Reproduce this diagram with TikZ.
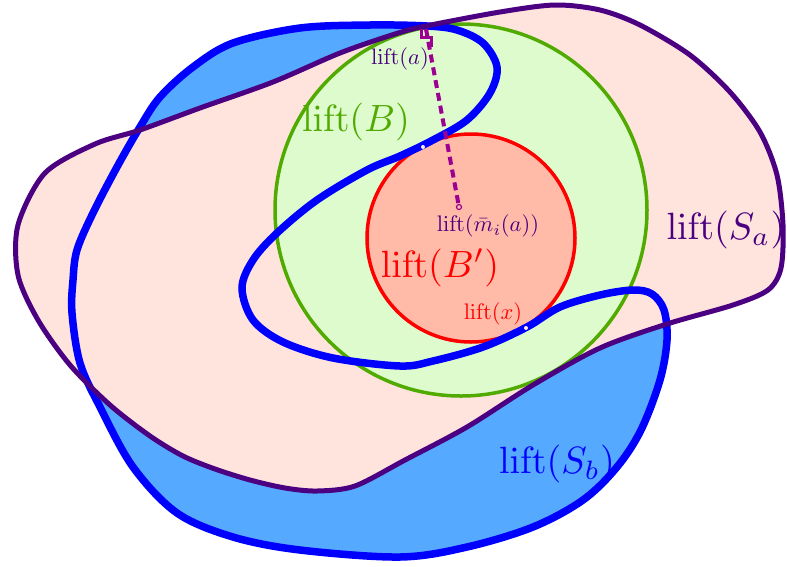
\documentclass[tikz,border=0pt]{standalone}
\usepackage{graphicx}
\definecolor{sbfill}{RGB}{85,170,255}
\definecolor{sbline}{RGB}{0,0,255}
\definecolor{safill}{RGB}{255,228,221}
\definecolor{saline}{RGB}{75,0,130}
\definecolor{bfill}{RGB}{222,251,206}
\definecolor{bline}{RGB}{80,170,0}
\definecolor{bpfill}{RGB}{255,187,168}
\definecolor{bpline}{RGB}{255,0,0}
\definecolor{dashcol}{RGB}{155,0,145}
\newcommand{\biglab}[1]{\scalebox{3.8}{#1}}
\newcommand{\smalllab}[1]{\scalebox{2.25}{#1}}
\tikzset{
  labelnode/.style={inner sep=0pt},
  dotmark/.style={circle, inner sep=0pt, minimum size=4pt, fill=white!70!pink}
}
\begin{document}
\begin{tikzpicture}[x=1pt,y=-1pt]
\useasboundingbox (0,0) rectangle (787,566);
\def\sbpath{plot[smooth cycle, tension=0.55] coordinates {
(427,26) (457,30) (483,43) (497,67) (490,93) (467,120) (433,140) (400,156) (367,170)
(317,200) (277,233) (253,260) (242,288) (253,320) (283,342) (333,358) (400,366)
(433,361) (483,347) (527,327) (560,307) (600,295) (633,290) (652,294) (664,310)
(667,340) (660,380) (641,430) (617,467) (583,500) (533,527) (467,547) (400,557)
(300,550) (233,537) (177,513) (133,467) (100,407) (80,363) (72,313) (73,280)
(77,250) (93,213) (117,167) (140,127) (160,97) (193,67) (233,43) (300,28) (370,25)}}
\def\sapath{plot[smooth cycle, tension=0.5] coordinates {
(426,26) (500,12) (555,5) (600,10) (640,25) (690,55) (730,92) (760,132) (777,175)
(783,225) (781,268) (768,290) (733,305) (667,324) (600,348) (533,385) (467,427)
(405,460) (355,486) (317,491) (285,488) (250,480) (215,469)
(183,456) (150,436) (110,405) (70,365) (38,320)
(18,275) (18,225) (45,173) (95,144) (140,130) (200,108) (273,82) (340,53) (395,34)}}
% S_b fill
\fill[sbfill] \sbpath;
% S_a fill
\fill[safill] \sapath;
% B and B'
\node[circle, draw=bline, line width=3.5pt, fill=bfill, minimum size=372pt, inner sep=0pt] (B) at (461,210) {};
\node[circle, draw=bpline, line width=3.5pt, fill=bpfill, minimum size=208pt, inner sep=0pt] (Bp) at (471,238) {};
% S_b outline
\draw[sbline, line width=7.5pt] \sbpath;
% S_a outline
\draw[saline, line width=5pt] \sapath;
% dashed geodesic
\coordinate (pa) at (426,29);
\coordinate (pm) at (459,207);
\draw[dashcol, line width=4pt, dash pattern=on 8pt off 5pt] (pa) -- (pm);
\draw[dashcol, line width=3pt] (421,29) -- (421,37) -- (431,37) -- (431,47);
\node[circle, draw=dashcol, fill=bpfill, line width=1.2pt, minimum size=5pt, inner sep=0pt] (mi) at (pm) {};
\node[dotmark] (xdot) at (526,328) {};
\node[dotmark] (cdot) at (423,147) {};
% labels
\node[labelnode, text=bline] (lB) at (356,122) {\biglab{$\mathrm{lift}(B)$}};
\node[labelnode, text=bpline] (lBp) at (440,268) {\biglab{$\mathrm{lift}(B')$}};
\node[labelnode, text=saline] (lSa) at (726,230) {\biglab{$\mathrm{lift}(S_a)$}};
\node[labelnode, text=sbline] (lSb) at (557,464) {\biglab{$\mathrm{lift}(S_b)$}};
\node[labelnode, text=saline] (la) at (400,59) {\smalllab{$\mathrm{lift}(a)$}};
\node[labelnode, text=saline] (lm) at (488,226) {\smalllab{$\mathrm{lift}(\bar{m}_i(a))$}};
\node[labelnode, text=bpline] (lx) at (493,314) {\smalllab{$\mathrm{lift}(x)$}};
\end{tikzpicture}
\end{document}
